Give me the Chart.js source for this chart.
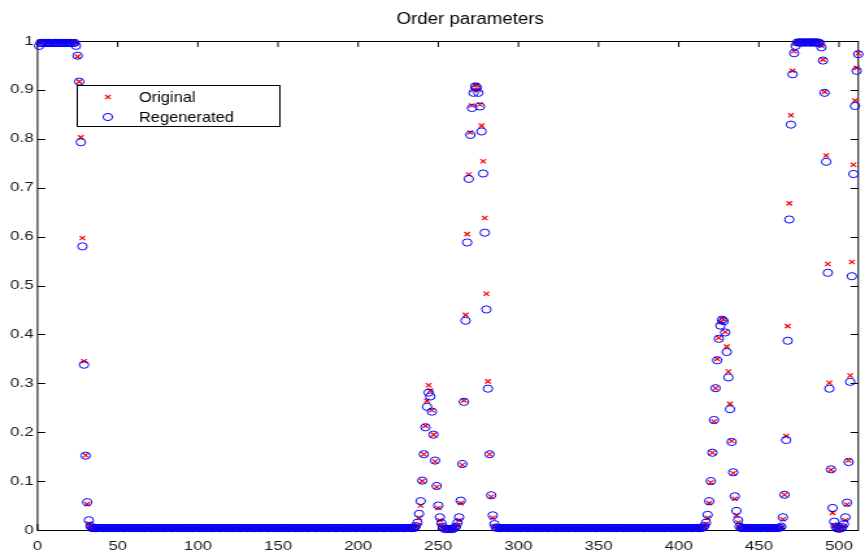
<!DOCTYPE html>
<html><head><meta charset="utf-8">
<script src="https://cdn.jsdelivr.net/npm/chart.js@4.4.1/dist/chart.umd.min.js"></script>
<style>
html,body{margin:0;padding:0;background:#fff;overflow:hidden;width:865px;height:552px}
#wrap{position:absolute;left:0;top:0;width:666px;height:552px;transform:scaleX(1.2988);transform-origin:0 0}
</style></head><body>
<div id="wrap"><canvas id="c" width="666" height="552"></canvas></div>
<script>
const chartTitle = 'Order parameters';
const seriesNames = ['Original', 'Regenerated'];
const xTickValues = [0, 50, 100, 150, 200, 250, 300, 350, 400, 450, 500];
const xTickLabels = ['0', '50', '100', '150', '200', '250', '300', '350', '400', '450', '500'];
const yTickValues = [0, 0.1, 0.2, 0.3, 0.4, 0.5, 0.6, 0.7, 0.8, 0.9, 1];
const yTickLabels = ['0', '0.1', '0.2', '0.3', '0.4', '0.5', '0.6', '0.7', '0.8', '0.9', '1'];

// sample index runs 1..512, one value per sample
const original = [
0.998,0.999,0.999,0.999,0.999,0.999,0.999,0.999,0.999,0.999,
0.999,0.999,0.999,0.999,0.999,0.999,0.999,0.999,0.999,0.999,
0.999,0.999,0.999,0.996,0.968,0.917,0.803,0.597,0.345,0.153,
0.053,0.013,0.005,0.003,0.003,0.003,0.003,0.003,0.003,0.003,
0.003,0.003,0.003,0.003,0.003,0.003,0.003,0.003,0.003,0.003,
0.003,0.003,0.003,0.003,0.003,0.003,0.003,0.003,0.003,0.003,
0.003,0.003,0.003,0.003,0.003,0.003,0.003,0.003,0.003,0.003,
0.003,0.003,0.003,0.003,0.003,0.003,0.003,0.003,0.003,0.003,
0.003,0.003,0.003,0.003,0.003,0.003,0.003,0.003,0.003,0.003,
0.003,0.003,0.003,0.003,0.003,0.003,0.003,0.003,0.003,0.003,
0.003,0.003,0.003,0.003,0.003,0.003,0.003,0.003,0.003,0.003,
0.003,0.003,0.003,0.003,0.003,0.003,0.003,0.003,0.003,0.003,
0.003,0.003,0.003,0.003,0.003,0.003,0.003,0.003,0.003,0.003,
0.003,0.003,0.003,0.003,0.003,0.003,0.003,0.003,0.003,0.003,
0.003,0.003,0.003,0.003,0.003,0.003,0.003,0.003,0.003,0.003,
0.003,0.003,0.003,0.003,0.003,0.003,0.003,0.003,0.003,0.003,
0.003,0.003,0.003,0.003,0.003,0.003,0.003,0.003,0.003,0.003,
0.003,0.003,0.003,0.003,0.003,0.003,0.003,0.003,0.003,0.003,
0.003,0.003,0.003,0.003,0.003,0.003,0.003,0.003,0.003,0.003,
0.003,0.003,0.003,0.003,0.003,0.003,0.003,0.003,0.003,0.003,
0.003,0.003,0.003,0.003,0.003,0.003,0.003,0.003,0.003,0.003,
0.003,0.003,0.003,0.003,0.003,0.003,0.003,0.003,0.003,0.003,
0.003,0.003,0.003,0.003,0.003,0.003,0.003,0.003,0.003,0.003,
0.003,0.003,0.003,0.003,0.003,0.006,0.010,0.025,0.050,0.100,
0.155,0.213,0.264,0.296,0.285,0.245,0.195,0.140,0.088,0.045,
0.020,0.010,0.004,0.002,0.002,0.002,0.002,0.002,0.002,0.003,
0.005,0.010,0.020,0.055,0.133,0.265,0.440,0.605,0.727,0.813,
0.868,0.900,0.910,0.910,0.900,0.870,0.827,0.754,0.638,0.483,
0.304,0.155,0.068,0.025,0.008,0.003,0.003,0.003,0.003,0.003,
0.003,0.003,0.003,0.003,0.003,0.003,0.003,0.003,0.003,0.003,
0.003,0.003,0.003,0.003,0.003,0.003,0.003,0.003,0.003,0.003,
0.003,0.003,0.003,0.003,0.003,0.003,0.003,0.003,0.003,0.003,
0.003,0.003,0.003,0.003,0.003,0.003,0.003,0.003,0.003,0.003,
0.003,0.003,0.003,0.003,0.003,0.003,0.003,0.003,0.003,0.003,
0.003,0.003,0.003,0.003,0.003,0.003,0.003,0.003,0.003,0.003,
0.003,0.003,0.003,0.003,0.003,0.003,0.003,0.003,0.003,0.003,
0.003,0.003,0.003,0.003,0.003,0.003,0.003,0.003,0.003,0.003,
0.003,0.003,0.003,0.003,0.003,0.003,0.003,0.003,0.003,0.003,
0.003,0.003,0.003,0.003,0.003,0.003,0.003,0.003,0.003,0.003,
0.003,0.003,0.003,0.003,0.003,0.003,0.003,0.003,0.003,0.003,
0.003,0.003,0.003,0.003,0.003,0.003,0.003,0.003,0.003,0.003,
0.003,0.003,0.003,0.003,0.004,0.006,0.012,0.025,0.055,0.097,
0.158,0.222,0.290,0.350,0.393,0.425,0.433,0.430,0.405,0.375,
0.324,0.258,0.182,0.116,0.064,0.030,0.015,0.005,0.003,0.003,
0.003,0.003,0.003,0.003,0.003,0.003,0.003,0.003,0.003,0.003,
0.003,0.003,0.003,0.003,0.003,0.003,0.003,0.003,0.003,0.003,
0.003,0.003,0.003,0.005,0.022,0.072,0.192,0.417,0.668,0.848,
0.939,0.979,0.995,0.999,0.999,0.999,0.999,0.999,0.999,0.999,
0.999,0.999,0.999,0.999,0.999,0.999,0.999,0.998,0.990,0.962,
0.896,0.766,0.544,0.301,0.123,0.035,0.010,0.004,0.002,0.002,
0.002,0.004,0.008,0.020,0.052,0.142,0.316,0.548,0.747,0.878,
0.945,0.975
];

const regenerated = [
0.990,0.996,0.996,0.996,0.996,0.996,0.996,0.996,0.996,0.996,
0.996,0.996,0.996,0.996,0.996,0.996,0.996,0.996,0.996,0.996,
0.996,0.996,0.996,0.990,0.970,0.917,0.793,0.580,0.338,0.152,
0.057,0.020,0.008,0.004,0.004,0.004,0.004,0.004,0.004,0.004,
0.004,0.004,0.004,0.004,0.004,0.004,0.004,0.004,0.004,0.004,
0.004,0.004,0.004,0.004,0.004,0.004,0.004,0.004,0.004,0.004,
0.004,0.004,0.004,0.004,0.004,0.004,0.004,0.004,0.004,0.004,
0.004,0.004,0.004,0.004,0.004,0.004,0.004,0.004,0.004,0.004,
0.004,0.004,0.004,0.004,0.004,0.004,0.004,0.004,0.004,0.004,
0.004,0.004,0.004,0.004,0.004,0.004,0.004,0.004,0.004,0.004,
0.004,0.004,0.004,0.004,0.004,0.004,0.004,0.004,0.004,0.004,
0.004,0.004,0.004,0.004,0.004,0.004,0.004,0.004,0.004,0.004,
0.004,0.004,0.004,0.004,0.004,0.004,0.004,0.004,0.004,0.004,
0.004,0.004,0.004,0.004,0.004,0.004,0.004,0.004,0.004,0.004,
0.004,0.004,0.004,0.004,0.004,0.004,0.004,0.004,0.004,0.004,
0.004,0.004,0.004,0.004,0.004,0.004,0.004,0.004,0.004,0.004,
0.004,0.004,0.004,0.004,0.004,0.004,0.004,0.004,0.004,0.004,
0.004,0.004,0.004,0.004,0.004,0.004,0.004,0.004,0.004,0.004,
0.004,0.004,0.004,0.004,0.004,0.004,0.004,0.004,0.004,0.004,
0.004,0.004,0.004,0.004,0.004,0.004,0.004,0.004,0.004,0.004,
0.004,0.004,0.004,0.004,0.004,0.004,0.004,0.004,0.004,0.004,
0.004,0.004,0.004,0.004,0.004,0.004,0.004,0.004,0.004,0.004,
0.004,0.004,0.004,0.004,0.004,0.004,0.004,0.004,0.004,0.004,
0.004,0.004,0.004,0.004,0.004,0.008,0.015,0.033,0.059,0.101,
0.155,0.210,0.252,0.281,0.273,0.242,0.195,0.142,0.090,0.050,
0.026,0.014,0.006,0.002,0.002,0.002,0.002,0.002,0.002,0.004,
0.007,0.015,0.026,0.060,0.135,0.262,0.428,0.588,0.718,0.808,
0.863,0.894,0.907,0.905,0.894,0.866,0.815,0.729,0.608,0.451,
0.289,0.155,0.071,0.030,0.012,0.005,0.004,0.004,0.004,0.004,
0.004,0.004,0.004,0.004,0.004,0.004,0.004,0.004,0.004,0.004,
0.004,0.004,0.004,0.004,0.004,0.004,0.004,0.004,0.004,0.004,
0.004,0.004,0.004,0.004,0.004,0.004,0.004,0.004,0.004,0.004,
0.004,0.004,0.004,0.004,0.004,0.004,0.004,0.004,0.004,0.004,
0.004,0.004,0.004,0.004,0.004,0.004,0.004,0.004,0.004,0.004,
0.004,0.004,0.004,0.004,0.004,0.004,0.004,0.004,0.004,0.004,
0.004,0.004,0.004,0.004,0.004,0.004,0.004,0.004,0.004,0.004,
0.004,0.004,0.004,0.004,0.004,0.004,0.004,0.004,0.004,0.004,
0.004,0.004,0.004,0.004,0.004,0.004,0.004,0.004,0.004,0.004,
0.004,0.004,0.004,0.004,0.004,0.004,0.004,0.004,0.004,0.004,
0.004,0.004,0.004,0.004,0.004,0.004,0.004,0.004,0.004,0.004,
0.004,0.004,0.004,0.004,0.004,0.004,0.004,0.004,0.004,0.004,
0.004,0.004,0.004,0.004,0.005,0.008,0.015,0.031,0.059,0.100,
0.158,0.225,0.290,0.347,0.391,0.418,0.430,0.427,0.404,0.364,
0.312,0.247,0.180,0.118,0.069,0.039,0.020,0.007,0.004,0.004,
0.004,0.004,0.004,0.004,0.004,0.004,0.004,0.004,0.004,0.004,
0.004,0.004,0.004,0.004,0.004,0.004,0.004,0.004,0.004,0.004,
0.004,0.004,0.005,0.007,0.026,0.072,0.184,0.387,0.635,0.829,
0.932,0.975,0.990,0.997,0.997,0.997,0.997,0.997,0.997,0.997,
0.997,0.997,0.997,0.997,0.997,0.997,0.997,0.995,0.987,0.960,
0.894,0.753,0.526,0.289,0.124,0.045,0.017,0.007,0.003,0.003,
0.003,0.006,0.012,0.026,0.056,0.139,0.303,0.519,0.728,0.867,
0.939,0.973
];

if (original.length !== 512 || regenerated.length !== 512) console.error('length', original.length, regenerated.length);

const FONT = "'Liberation Sans', Arial, Helvetica, sans-serif";
const toPoints = arr => arr.map((v, i) => ({ x: i + 1, y: v }));

// draws text squeezed horizontally (the whole page is stretched by CSS, like the reference)
function drawText(ctx, text, x, y, size, sx, align, color) {
  ctx.save();
  ctx.translate(x, y);
  ctx.scale(sx, 1);
  ctx.font = size + 'px ' + FONT;
  ctx.textBaseline = 'middle';
  ctx.textAlign = align;
  ctx.fillStyle = color || '#000';
  ctx.fillText(text, 0, 0);
  ctx.restore();
}

const titlePlugin = {
  id: 'plotTitle',
  afterDraw(chart) { drawText(chart.ctx, chartTitle, 362, 20, 16, 0.9, 'center'); }
};

// frame box, inward ticks on all four sides, and x tick labels placed by the x scale
const framePlugin = {
  id: 'frame',
  beforeDatasetsDraw(chart) {
    const { ctx, chartArea: a, scales: { x, y } } = chart;
    ctx.save();
    ctx.strokeStyle = '#000';
    ctx.lineWidth = 1;
    ctx.strokeRect(a.left, Math.round(a.top) + 0.5, a.right - a.left, Math.round(a.bottom) - Math.round(a.top));
    const L = 6;
    ctx.beginPath();
    x.ticks.forEach(t => {
      const px = x.getPixelForValue(t.value);
      ctx.moveTo(px, a.bottom); ctx.lineTo(px, a.bottom - L);
      ctx.moveTo(px, a.top); ctx.lineTo(px, a.top + L);
    });
    y.ticks.forEach(t => {
      const py = Math.round(y.getPixelForValue(t.value)) + 0.5;
      ctx.moveTo(a.left, py); ctx.lineTo(a.left + L, py);
      ctx.moveTo(a.right, py); ctx.lineTo(a.right - L, py);
    });
    ctx.stroke();
    ctx.restore();
    xTickValues.forEach((v, i) => {
      drawText(ctx, xTickLabels[i], x.getPixelForValue(v), a.bottom + 16, 13, 1, 'center', '#1a1a1a');
    });
  }
};

const legendPlugin = {
  id: 'boxLegend',
  afterDatasetsDraw(chart) {
    const ctx = chart.ctx;
    const bx = 59.5, by = 85.5, bw = 156, bh = 41;
    ctx.save();
    ctx.fillStyle = '#fff';
    ctx.fillRect(bx, by, bw, bh);
    ctx.strokeStyle = '#000';
    ctx.lineWidth = 1;
    ctx.strokeRect(bx, by, bw, bh);
    chart.data.datasets.forEach((ds, i) => {
      const cy = by + 11.5 + i * 20;
      const cx = 83;
      ctx.strokeStyle = ds.borderColor;
      ctx.lineWidth = ds.borderWidth;
      ctx.beginPath();
      if (ds.pointStyle === 'crossRot') {
        const d = ds.pointRadius * Math.SQRT1_2;
        ctx.moveTo(cx - d, cy - d); ctx.lineTo(cx + d, cy + d);
        ctx.moveTo(cx - d, cy + d); ctx.lineTo(cx + d, cy - d);
      } else {
        ctx.arc(cx, cy, ds.pointRadius, 0, Math.PI * 2);
      }
      ctx.stroke();
      drawText(ctx, ds.label, 107, cy + 0.5, 14.5, 0.87, 'left');
    });
    ctx.restore();
  }
};

new Chart(document.getElementById('c'), {
  type: 'scatter',
  data: {
    datasets: [
      { label: seriesNames[0], data: toPoints(original), pointStyle: 'crossRot', pointRadius: 3.0,
        borderColor: '#ff0000', backgroundColor: 'rgba(0,0,0,0)', borderWidth: 1.2, order: 1, clip: false },
      { label: seriesNames[1], data: toPoints(regenerated), pointStyle: 'circle', pointRadius: 3.6,
        borderColor: '#0000ff', backgroundColor: 'rgba(0,0,0,0)', borderWidth: 1, order: 0, clip: false }
    ]
  },
  options: {
    responsive: false,
    animation: false,
    events: [],
    layout: { padding: { left: 0, right: 1.5, top: 41, bottom: 22 } },
    plugins: {
      legend: { display: false },
      tooltip: { enabled: false },
      title: { display: false }
    },
    scales: {
      x: {
        type: 'linear', min: 0, max: 512,
        grid: { display: false, drawTicks: false }, border: { display: false },
        afterBuildTicks: s => { s.ticks = xTickValues.map(v => ({ value: v })); },
        afterFit: s => { s.height = 0; s.paddingLeft = 0; s.paddingRight = 0; },
        ticks: { display: false }
      },
      y: {
        type: 'linear', min: 0, max: 1,
        grid: { display: false, drawTicks: false }, border: { display: false },
        afterBuildTicks: s => { s.ticks = yTickValues.map(v => ({ value: v })); },
        afterFit: s => { s.width = 28.9; },
        ticks: { color: '#1a1a1a', font: { family: FONT, size: 13 }, padding: 3, autoSkip: false,
          callback: (v, i) => yTickLabels[i] }
      }
    }
  },
  plugins: [framePlugin, legendPlugin, titlePlugin]
});
</script>
</body></html>
